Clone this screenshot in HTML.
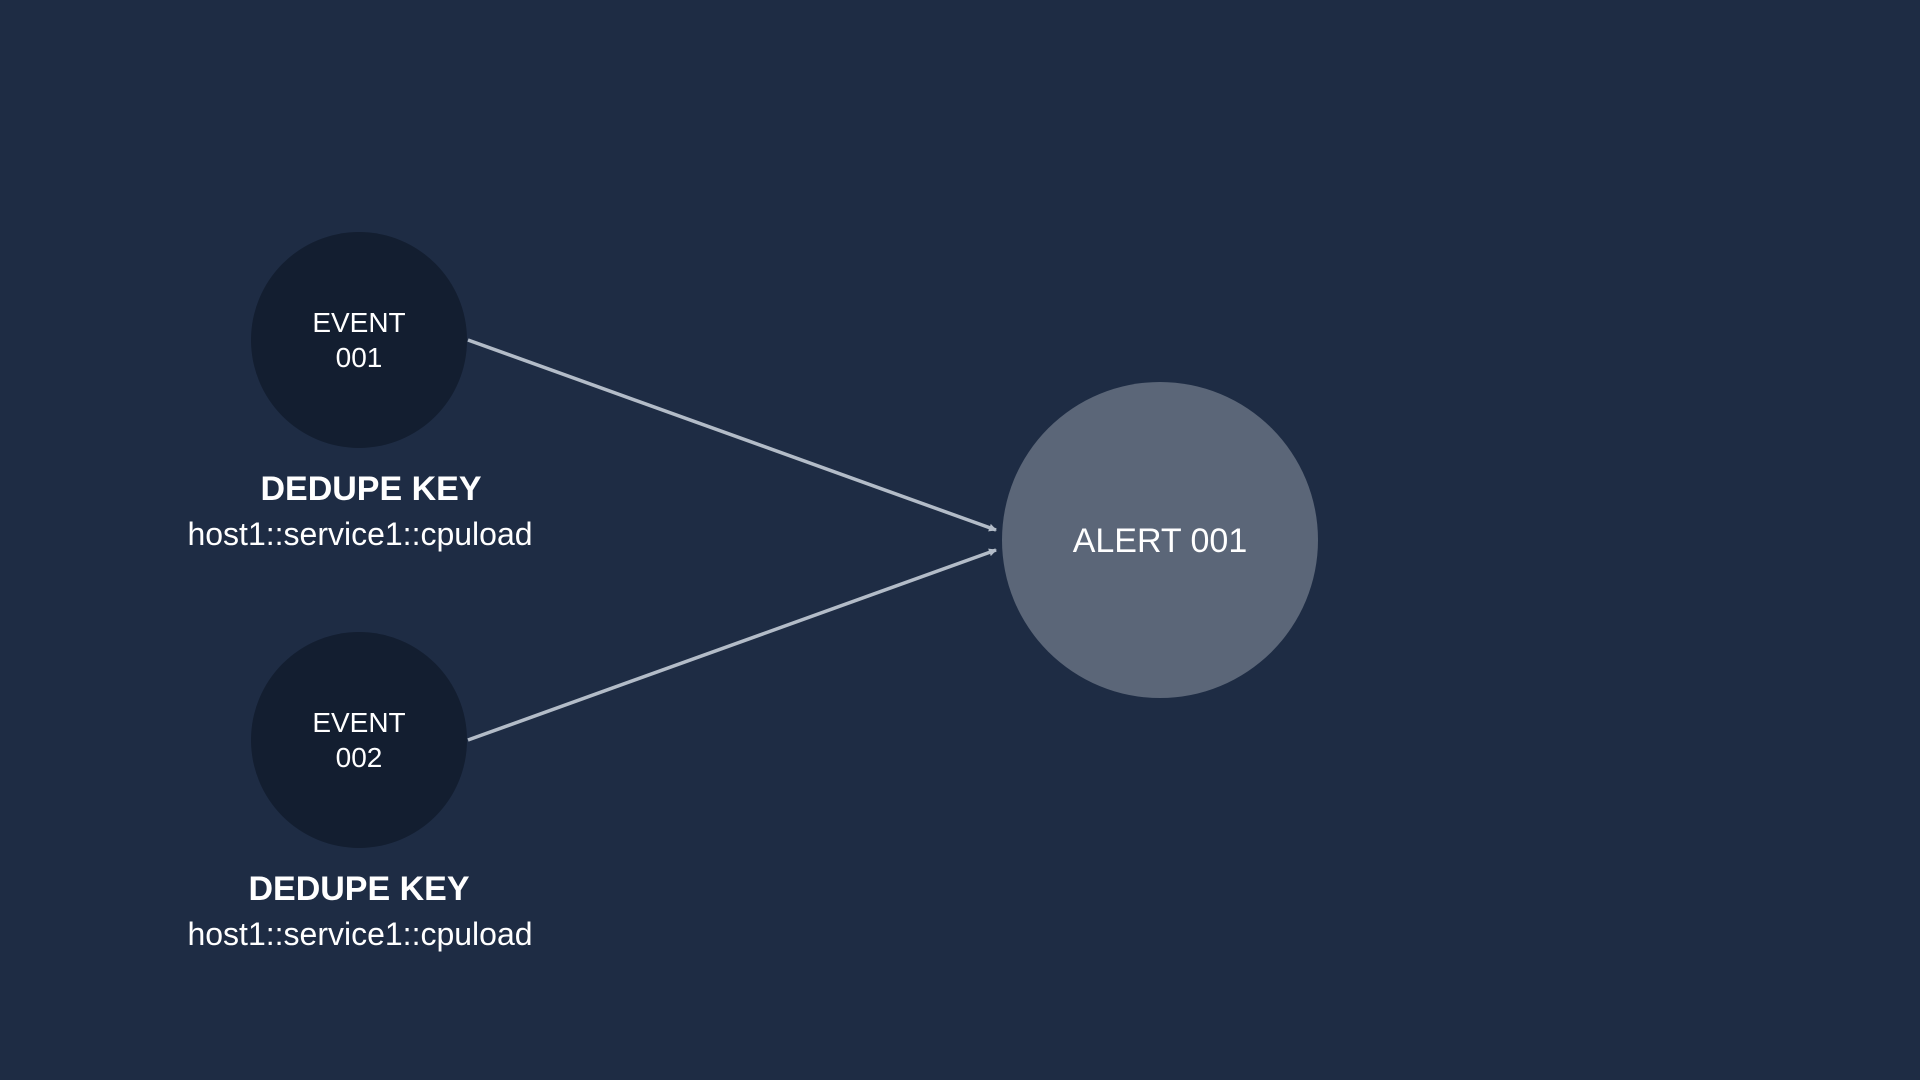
<!DOCTYPE html>
<html><head><meta charset="utf-8"><style>
html,body{margin:0;padding:0;background:#1e2c44;}
svg{display:block}
text{font-family:"Liberation Sans",sans-serif;fill:#ffffff}
</style></head><body>
<svg width="1920" height="1080" viewBox="0 0 1920 1080" xmlns="http://www.w3.org/2000/svg">
<rect width="1920" height="1080" fill="#1e2c44"/>
<defs>
<marker id="ah" markerWidth="8" markerHeight="8" refX="7" refY="4" orient="auto" markerUnits="userSpaceOnUse">
<path d="M0,0 L8,4 L0,8 Z" fill="#b3bcc8"/>
</marker>
</defs>
<line x1="468" y1="340" x2="996" y2="530" stroke="#b3bcc8" stroke-width="3.5" marker-end="url(#ah)"/>
<line x1="468" y1="740" x2="996" y2="550" stroke="#b3bcc8" stroke-width="3.5" marker-end="url(#ah)"/>
<circle cx="359" cy="340" r="108" fill="#131e30"/>
<circle cx="359" cy="740" r="108" fill="#131e30"/>
<circle cx="1160" cy="540" r="158" fill="#5b6678"/>
<text x="359" y="332" font-size="28" text-anchor="middle">EVENT</text>
<text x="359" y="367" font-size="28" text-anchor="middle">001</text>
<text x="359" y="732" font-size="28" text-anchor="middle">EVENT</text>
<text x="359" y="767" font-size="28" text-anchor="middle">002</text>
<text x="1160" y="552" font-size="34" text-anchor="middle">ALERT 001</text>
<text x="371" y="500" font-size="34" font-weight="bold" text-anchor="middle">DEDUPE KEY</text>
<text x="360" y="545" font-size="32" text-anchor="middle">host1::service1::cpuload</text>
<text x="359" y="900" font-size="34" font-weight="bold" text-anchor="middle">DEDUPE KEY</text>
<text x="360" y="945" font-size="32" text-anchor="middle">host1::service1::cpuload</text>
</svg>
</body></html>
